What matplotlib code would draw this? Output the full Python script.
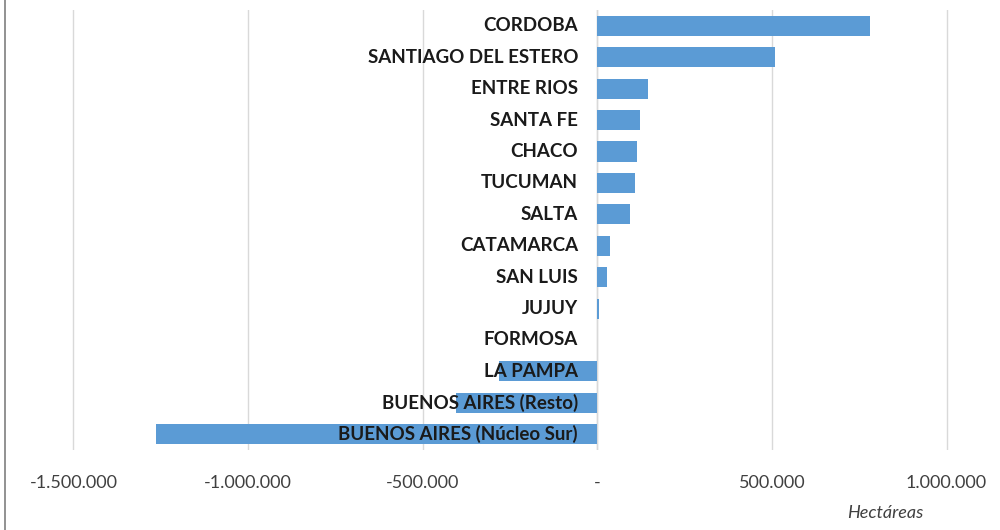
import matplotlib
matplotlib.use("Agg")
import matplotlib.pyplot as plt
from matplotlib.lines import Line2D

provincias = ["CORDOBA", "SANTIAGO DEL ESTERO", "ENTRE RIOS", "SANTA FE", "CHACO",
              "TUCUMAN", "SALTA", "CATAMARCA", "SAN LUIS", "JUJUY", "FORMOSA",
              "LA PAMPA", "BUENOS AIRES (Resto)", "BUENOS AIRES (Núcleo Sur)"]
hectareas = [782000, 510000, 146000, 121000, 115000, 109000, 95000, 37000, 29000,
             5000, 500, -281000, -404000, -1264000]
xticks = [-1500000, -1000000, -500000, 0, 500000, 1000000]
xticklabels = ["-1.500.000", "-1.000.000", "-500.000", "-", "500.000", "1.000.000"]

plt.rcParams['font.family'] = ['Lato', 'DejaVu Sans']

fig = plt.figure(figsize=(10, 5.3), dpi=100)
ax = fig.add_axes([0.07, 0.151, 0.88, 0.830])

y = list(range(len(provincias)))
ax.barh(y, hectareas, height=0.64, color="#5B9BD5", zorder=2)
ax.set_ylim(len(provincias) - 0.5, -0.5)
ax.set_xlim(-1510000, 1010000)
ax.set_xticks(xticks)
ax.set_xticklabels(xticklabels, fontsize=13, color="#404040")
ax.set_yticks([])
ax.grid(axis="x", color="#D9D9D9", linewidth=1, zorder=0)
ax.axvline(0, color="#D9D9D9", linewidth=1, zorder=1)
for s in ax.spines.values():
    s.set_visible(False)
ax.tick_params(axis="x", length=0, pad=18)

for yi, name in zip(y, provincias):
    ax.text(-55000, yi, name, ha="right", va="center", fontsize=13.5,
            fontweight="bold", color="#1a1a1a", zorder=3)

fig.text(0.885, 0.033, "Hectáreas", fontsize=13, style="italic", color="#404040",
         ha="center", va="center")
fig.add_artist(Line2D([0.005, 0.005], [0, 1], color="#7f7f7f", linewidth=1.2,
                      transform=fig.transFigure))

fig.savefig("out.png", dpi=100)
